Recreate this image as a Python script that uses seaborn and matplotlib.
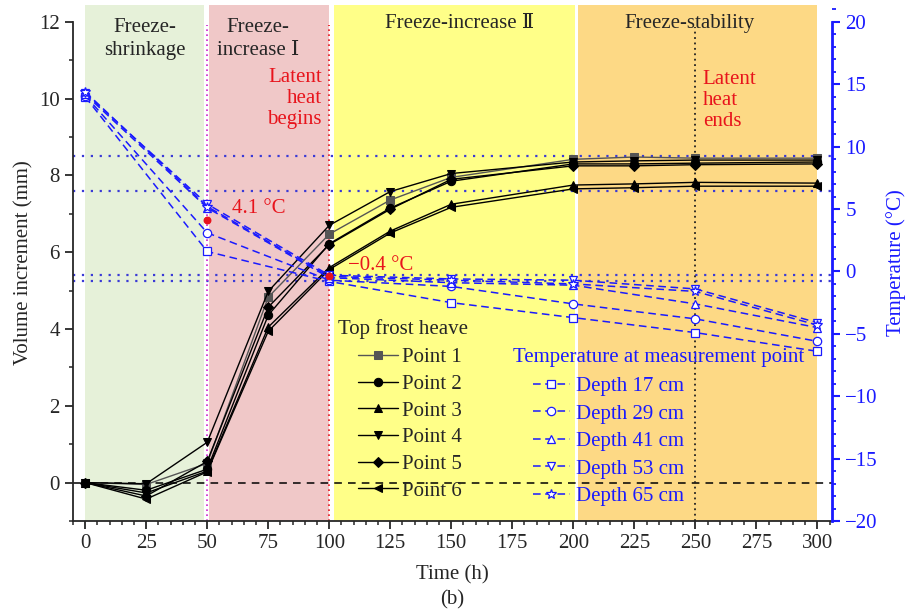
import matplotlib
matplotlib.use("Agg")
import matplotlib.pyplot as plt
from matplotlib.ticker import MultipleLocator
import seaborn as sns

# frost heave at the top (mm)
time_h = [0, 25, 50, 75, 100, 125, 150, 200, 225, 250, 300]
point_1 = [0, -0.05, 0.50, 4.83, 6.47, 7.36, 7.95, 8.42, 8.48, 8.45, 8.45]
point_2 = [0, -0.20, 0.35, 4.36, 6.22, 7.15, 7.85, 8.30, 8.30, 8.32, 8.35]
point_3 = [0, -0.27, 0.30, 4.05, 5.60, 6.55, 7.25, 7.75, 7.78, 7.82, 7.80]
point_4 = [0, -0.03, 1.05, 4.98, 6.70, 7.58, 8.05, 8.35, 8.38, 8.40, 8.40]
point_5 = [0, -0.35, 0.55, 4.57, 6.20, 7.12, 7.90, 8.25, 8.25, 8.28, 8.30]
point_6 = [0, -0.43, 0.28, 3.94, 5.55, 6.50, 7.17, 7.65, 7.68, 7.72, 7.72]

# temperature at measurement points (°C)
temp_time = [0, 50, 100, 150, 200, 250, 300]
depth_17 = [14.0, 1.6, -0.8, -2.5, -3.7, -4.9, -6.4]
depth_29 = [14.1, 3.1, -0.7, -1.2, -2.6, -3.8, -5.6]
depth_41 = [14.2, 5.1, -0.5, -0.9, -1.1, -2.6, -4.5]
depth_53 = [14.3, 5.4, -0.3, -0.6, -0.7, -1.4, -4.1]
depth_65 = [14.4, 5.2, -0.4, -0.7, -1.0, -1.6, -4.3]

# latent heat marks
mark_time = [50, 100]
mark_temp = [4.1, -0.4]

stages = ["Freeze-\nshrinkage", "Freeze-\nincrease Ⅰ", "Freeze-increase Ⅱ", "Freeze-stability"]

sns.set_style("ticks")
plt.rcParams["font.family"] = ["Liberation Serif", "DejaVu Serif", "Noto Sans CJK SC"]

BLUE = "#1a1aff"
RED = "#e8141c"

fig = plt.figure(figsize=(9.09, 6.14), dpi=100)
ax = fig.add_axes([0.0803, 0.1515, 0.835, 0.8404])
ax2 = ax.twinx()

# stage background
ax.axvspan(0, 48.7, color="#e6f1d9", lw=0, zorder=0)
ax.axvspan(50.8, 100, color="#f0c8c8", lw=0, zorder=0)
ax.axvspan(102, 200.5, color="#ffff88", lw=0, zorder=0)
ax.axvspan(201.8, 300, color="#fdd985", lw=0, zorder=0)

# reference lines
for yv in [8.5, 7.6, 5.4, 5.25]:
    ax.axhline(yv, color="#3a3ad6", ls=(0, (1, 3)), lw=1.6, zorder=1)
ax.axhline(0, color="black", ls=(0, (5, 4)), lw=1.1, zorder=1)
ax.vlines(50, -1, 11.92, color="#d020d0", ls=(0, (1, 2)), lw=1.2, zorder=1)
ax.vlines(100, -1, 11.92, color=RED, ls=(0, (1, 2)), lw=1.2, zorder=1)
ax.vlines(250, -1, 11.87, color="#222222", ls=(0, (1, 2)), lw=1.3, zorder=1)

heave = [("Point 1", point_1, "s", "#555555"), ("Point 2", point_2, "o", "black"),
         ("Point 3", point_3, "^", "black"), ("Point 4", point_4, "v", "black"),
         ("Point 5", point_5, "D", "black"), ("Point 6", point_6, "<", "black")]
for name, vals, m, c in heave:
    sns.lineplot(x=time_h, y=vals, ax=ax, color=c, lw=1.0, marker=m, ms=6 if m != "D" else 5,
                 mec=c, mfc=c, label=name, zorder=3)

temps = [("Depth 17 cm", depth_17, "s"), ("Depth 29 cm", depth_29, "o"),
         ("Depth 41 cm", depth_41, "^"), ("Depth 53 cm", depth_53, "v"),
         ("Depth 65 cm", depth_65, "*")]
for name, vals, m in temps:
    sns.lineplot(x=temp_time, y=vals, ax=ax2, color=BLUE, lw=1.1, ls=(0, (5, 3)),
                 marker=m, ms=6 if m != "*" else 7, mfc="white", mec=BLUE, mew=0.9,
                 label=name, zorder=3)
ax2.scatter(mark_time, mark_temp, color=RED, s=22, zorder=5)

# axes
ax.set_xlim(-5, 306)
ax.set_ylim(-1, 12.44)
ax2.set_ylim(-20, 21.36)
ax.set_xticks(range(0, 301, 25))
ax.xaxis.set_minor_locator(MultipleLocator(5))
ax.set_yticks(range(0, 13, 2))
ax.yaxis.set_minor_locator(MultipleLocator(1))
ax2.set_yticks(range(-20, 21, 5))
ax2.set_yticklabels([str(v).replace("-", "\u2212") for v in range(-20, 21, 5)])
ax2.yaxis.set_minor_locator(MultipleLocator(1))

for s in ["top", "right"]:
    ax.spines[s].set_visible(False)
for s in ["top", "left", "bottom"]:
    ax2.spines[s].set_visible(False)
ax.spines["left"].set_bounds(-1, 12)
ax.spines["left"].set_linewidth(1.3)
ax.spines["bottom"].set_linewidth(1.3)
ax2.spines["right"].set_bounds(-20, 20)
ax2.spines["right"].set_color(BLUE)
ax2.spines["right"].set_linewidth(2)

ax.tick_params(which="major", direction="out", length=6, width=1.3, labelsize=15)
ax.tick_params(which="minor", direction="out", length=3, width=1.1)
ax2.tick_params(which="major", direction="out", length=6, width=1.5, colors=BLUE, labelsize=15)
ax2.tick_params(which="minor", direction="out", length=3, width=1.3, colors=BLUE)

ax.set_xlabel("Time (h)", fontsize=15, labelpad=9)
ax.set_ylabel("Volume increment (mm)", fontsize=15, labelpad=4)
ax2.set_ylabel("Temperature (°C)", fontsize=15, color=BLUE, labelpad=6)

# stage names and notes
ax.text(24.6, 11.56, stages[0], ha="center", va="center", fontsize=15, linespacing=1.25)
ax.text(70.8, 11.56, stages[1], ha="center", va="center", fontsize=15, linespacing=1.25)
ax.text(153.5, 11.97, stages[2], ha="center", va="center", fontsize=15)
ax.text(247.6, 11.97, stages[3], ha="center", va="center", fontsize=15)
ax.text(97, 10.0, "Latent\nheat\nbegins", ha="right", va="center", ma="right",
        fontsize=15, color=RED, linespacing=1.15)
ax.text(253, 9.95, "Latent\nheat\nends", ha="left", va="center", fontsize=15,
        color=RED, linespacing=1.15)
ax.text(60.2, 7.15, "4.1 °C", ha="left", va="center", fontsize=15, color=RED)
ax.text(107.6, 5.66, "\u22120.4 °C", ha="left", va="center", fontsize=15, color=RED)

ax.text(103.5, 4.0, "Top frost heave", ha="left", va="center", fontsize=15)
ax.text(175.2, 3.27, "Temperature at measurement point", ha="left", va="center",
        fontsize=15, color=BLUE)

ax.legend(loc="upper left", bbox_to_anchor=(0.394, 0.4335), bbox_transform=fig.transFigure,
          frameon=False, fontsize=15, handlelength=1.9, handletextpad=0.2,
          labelspacing=0.34, borderpad=0, borderaxespad=0)
ax2.legend(loc="upper left", bbox_to_anchor=(0.586, 0.3865), bbox_transform=fig.transFigure,
           frameon=False, fontsize=15, handlelength=1.8, handletextpad=0.3,
           labelspacing=0.38, borderpad=0, borderaxespad=0, labelcolor=BLUE)

fig.text(0.498, 0.023, "(b)", ha="center", va="center", fontsize=15)

fig.savefig("out.png", dpi=100)
